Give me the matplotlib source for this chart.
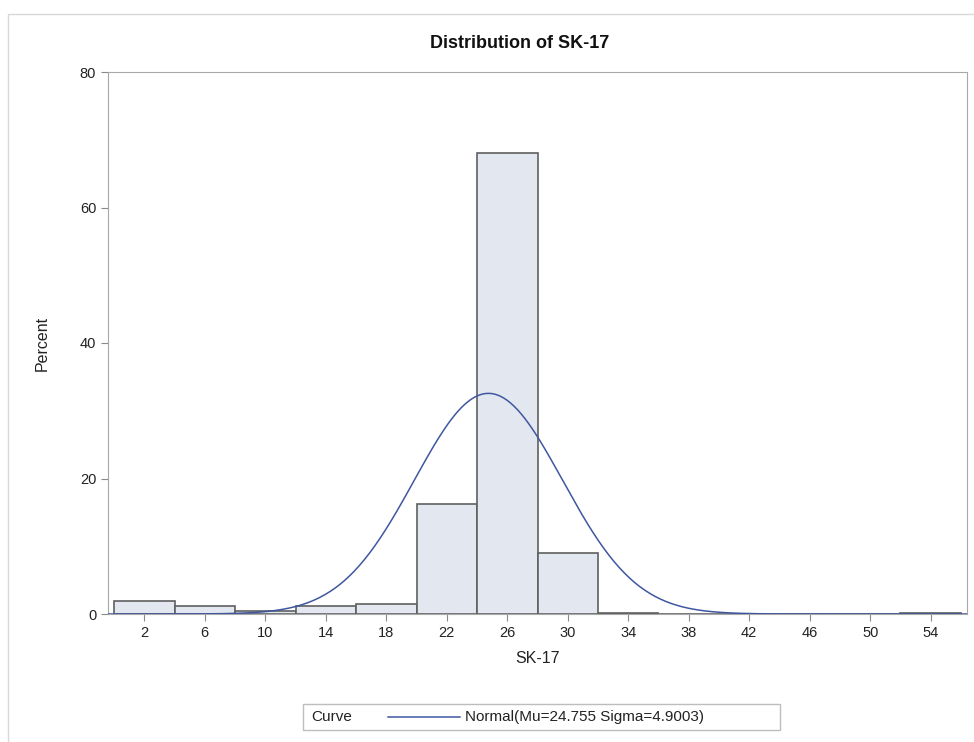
import numpy as np
import matplotlib.pyplot as plt
from matplotlib.patches import Rectangle

plt.rcParams["font.family"] = ["Liberation Sans", "DejaVu Sans"]

# bin midpoints (width 4) and percents
midpoints = [2, 6, 10, 14, 18, 22, 26, 30, 34, 38, 42, 46, 50, 54]
percents = [1.9, 1.25, 0.4, 1.25, 1.45, 16.2, 68.0, 9.0, 0.1, 0.05, 0.03, 0.03, 0.03, 0.2]
bin_width = 4
mu = 24.755
sigma = 4.9003

fig = plt.figure(figsize=(9.74, 7.42), dpi=100)
# outer light frame
fig.patches.append(Rectangle((8 / 974, -0.1), 1.1, 1 - 14 / 742 + 0.1, transform=fig.transFigure,
                             fill=False, edgecolor="#d8d8d8", linewidth=1))
ax = fig.add_axes([108 / 974, 1 - 614 / 742, (967 - 108) / 974, (614 - 72) / 742])

ax.bar(midpoints, percents, width=bin_width, color="#e3e7f0", edgecolor="#606060", linewidth=1.2, zorder=2)

xs = np.linspace(-0.4, 56.4, 500)
ys = 100 * bin_width * np.exp(-0.5 * ((xs - mu) / sigma) ** 2) / (sigma * np.sqrt(2 * np.pi))
ax.plot(xs, ys, color="#3f57a0", linewidth=1.1, zorder=3)

ax.set_xlim(-0.4, 56.4)
ax.set_ylim(0, 80)
ax.set_xticks(midpoints)
ax.set_yticks([0, 20, 40, 60, 80])
for s in ax.spines.values():
    s.set_color("#a8a8a8")
ax.tick_params(colors="#8a8a8a", labelcolor="#222222", labelsize=10.5, length=5)

ax.set_xlabel("SK-17", fontsize=11.5, color="#222222", labelpad=8)
ax.set_ylabel("Percent", fontsize=11.5, color="#222222", labelpad=22)
fig.text(520 / 974, 1 - 44 / 742, "Distribution of SK-17", ha="center", va="center",
         fontsize=13, fontweight="bold", color="#111111")

# legend box
lx0, lx1, ly0, ly1 = 303 / 974, 780 / 974, 1 - 730 / 742, 1 - 704 / 742
fig.patches.append(Rectangle((lx0, ly0), lx1 - lx0, ly1 - ly0, transform=fig.transFigure,
                             fill=False, edgecolor="#bdbdbd", linewidth=1))
ym = (ly0 + ly1) / 2
fig.text(311 / 974, ym, "Curve", ha="left", va="center", fontsize=11, color="#222222")
fig.lines.append(plt.Line2D([388 / 974, 460 / 974], [ym, ym], transform=fig.transFigure,
                            color="#3f57a0", linewidth=1.1))
fig.text(465 / 974, ym, f"Normal(Mu={mu} Sigma={sigma})", ha="left", va="center",
         fontsize=11, color="#222222")

fig.savefig("out.png", dpi=100)
